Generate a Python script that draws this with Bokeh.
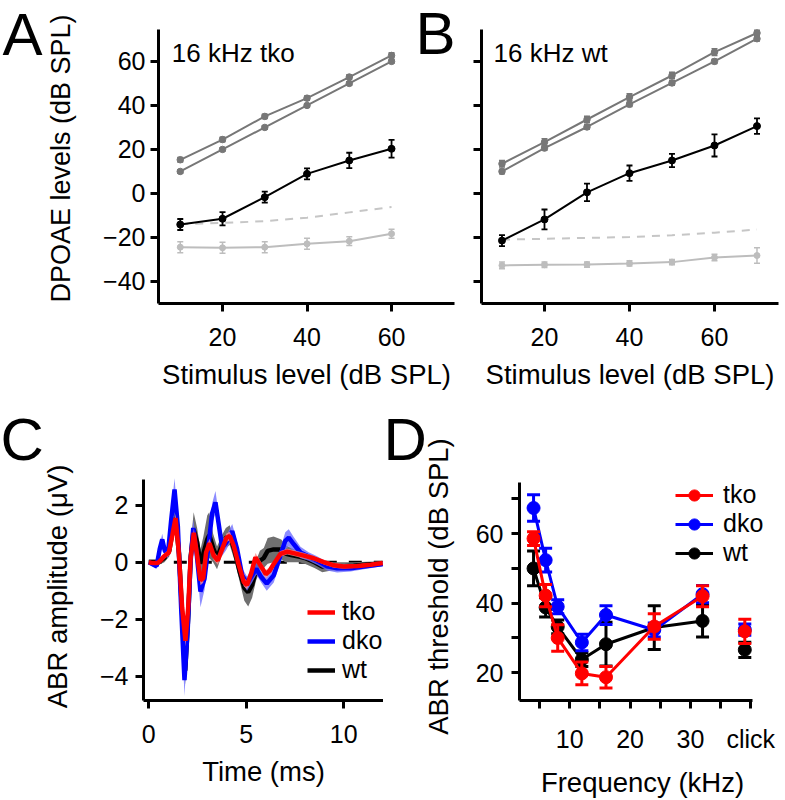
import math
from bokeh.plotting import figure
from bokeh.models import Label, Legend, LegendItem, FixedTicker, Range1d, Title
from bokeh.layouts import row, column
from bokeh.embed import file_html
from bokeh.resources import INLINE

FONT = "Liberation Sans"

# ---------------- Panel A data (16 kHz tko) ----------------
A_level = [10, 20, 30, 40, 50, 60]
A_f1 = [15.3, 24.5, 35.0, 43.3, 52.9, 62.7]
A_f1_err = [1.0, 1.0, 1.0, 1.0, 1.0, 1.2]
A_f2 = [10.0, 20.0, 30.0, 40.0, 50.0, 60.0]
A_f2_err = [0.8, 0.8, 0.8, 0.8, 0.8, 0.8]
A_dp = [-14.1, -11.5, -1.7, 8.9, 15.0, 20.3]
A_dp_err = [2.5, 3.0, 2.5, 2.5, 3.5, 4.0]
A_noise = [-24.4, -24.7, -24.4, -22.9, -21.7, -18.3]
A_noise_err = [2.5, 2.5, 2.5, 2.5, 2.0, 2.0]
A_floor = [-14.0, -13.4, -12.6, -11.0, -8.6, -6.2]

# ---------------- Panel B data (16 kHz wt) ----------------
B_level = [10, 20, 30, 40, 50, 60, 70]
B_f1 = [13.5, 23.3, 33.6, 43.8, 53.6, 64.2, 72.9]
B_f1_err = [1.5, 1.5, 1.5, 1.5, 1.5, 1.5, 1.2]
B_f2 = [10.0, 20.6, 30.2, 40.5, 50.2, 60.0, 70.3]
B_f2_err = [1.0, 1.0, 1.0, 1.0, 1.0, 1.0, 1.0]
B_dp = [-21.4, -11.8, 0.5, 9.2, 15.0, 21.8, 30.6]
B_dp_err = [2.5, 4.5, 4.0, 3.5, 3.0, 5.0, 3.5]
B_noise = [-32.7, -32.4, -32.3, -31.8, -31.2, -29.1, -28.2]
B_noise_err = [1.5, 1.2, 1.2, 1.2, 1.2, 1.5, 3.5]
B_floor = [-21.0, -20.6, -20.2, -19.8, -19.0, -17.8, -16.4]

# ---------------- Panel C data (ABR waveforms) ----------------
C_t_tko = [0, 0.2, 0.45, 0.6, 0.77, 1.03, 1.2, 1.37, 1.54, 1.71, 1.88, 2.02, 2.14, 2.31, 2.48,
           2.65, 2.79, 2.94, 3.11, 3.33, 3.54, 3.76, 3.98, 4.16, 4.36, 4.62, 4.87, 5.04, 5.25,
           5.47, 5.73, 6.0, 6.2, 6.41, 6.75, 7.1, 7.44, 7.95, 8.46, 8.98, 9.49, 10.0, 10.7,
           11.38, 12.0]
C_v_tko = [0, -0.03, -0.03, 0.06, 0.2, 0.34, 0.92, 1.55, 0.34, -1.6, -2.76, -1.6, 0.11, 1.03,
           0.23, -0.63, -0.57, 0.34, 0.67, 0.23, 0.06, 0.46, 0.86, 0.92, 0.57, -0.11, -0.69,
           -0.8, -0.4, 0.17, -0.11, -0.42, -0.3, -0.06, 0.29, 0.37, 0.32, 0.23, 0.14, 0.0,
           -0.11, -0.15, -0.13, -0.09, -0.03]
C_e_tko = [0.05, 0.05, 0.05, 0.08, 0.1, 0.1, 0.12, 0.15, 0.12, 0.15, 0.2, 0.15, 0.12, 0.15, 0.15,
           0.18, 0.15, 0.15, 0.15, 0.15, 0.15, 0.15, 0.15, 0.15, 0.15, 0.15, 0.15, 0.15, 0.15,
           0.15, 0.15, 0.15, 0.12, 0.1, 0.1, 0.1, 0.1, 0.1, 0.08, 0.08, 0.08, 0.08, 0.06, 0.06,
           0.05]

C_t_dko = [0, 0.17, 0.4, 0.56, 0.69, 0.82, 0.98, 1.15, 1.32, 1.49, 1.66, 1.83, 2.0, 2.14, 2.28,
           2.45, 2.65, 2.86, 3.04, 3.25, 3.42, 3.59, 3.76, 3.98, 4.28, 4.53, 4.79, 5.04, 5.3,
           5.52, 5.77, 6.05, 6.41, 6.75, 7.0, 7.18, 7.44, 7.78, 8.2, 8.63, 9.15, 9.66, 10.35,
           11.03, 12.0]
C_v_dko = [0, -0.06, -0.14, 0.46, 0.8, 0.4, 0.29, 1.49, 2.55, 1.26, -1.6, -4.14, -2.3, 0.0,
           1.2, 0.34, -1.03, -0.57, 0.46, 1.72, 2.1, 1.32, 0.52, 0.69, 1.09, 0.46, -0.46, -0.75,
           -0.46, -0.23, -0.52, -0.75, -0.46, 0.23, 0.75, 0.86, 0.63, 0.34, 0.2, 0.06, -0.14,
           -0.21, -0.21, -0.15, -0.06]
C_e_dko = [0.05, 0.08, 0.1, 0.15, 0.2, 0.15, 0.15, 0.3, 0.4, 0.3, 0.4, 0.55, 0.4, 0.3, 0.3,
           0.3, 0.55, 0.4, 0.3, 0.35, 0.4, 0.35, 0.3, 0.25, 0.25, 0.25, 0.25, 0.25, 0.25, 0.2,
           0.2, 0.25, 0.25, 0.25, 0.3, 0.3, 0.25, 0.2, 0.15, 0.15, 0.15, 0.15, 0.12, 0.1, 0.08]

C_t_wt = [0, 0.5, 0.8, 1.05, 1.2, 1.37, 1.55, 1.7, 1.87, 2.03, 2.15, 2.3, 2.48, 2.65, 2.8, 3.0,
          3.1, 3.3, 3.5, 3.75, 3.95, 4.15, 4.4, 4.65, 4.9, 5.1, 5.3, 5.5, 5.7, 5.9, 6.1, 6.4,
          6.8, 7.0, 7.3, 7.7, 8.0, 8.5, 8.9, 9.3, 9.8, 10.5, 11.2, 12.0]
C_v_wt = [0, 0, 0.15, 0.4, 1.0, 1.55, 0.3, -1.7, -3.8, -1.8, 0.2, 1.15, 0.7, -0.05, 0.3, 0.8,
          0.95, 0.5, 0.15, 0.6, 0.85, 0.95, 0.4, -0.3, -0.9, -1.05, -0.8, -0.3, 0.05, 0.15,
          0.4, 0.45, 0.45, 0.3, 0.25, 0.2, 0.15, 0.0, -0.15, -0.15, -0.15, -0.12, -0.08, -0.05]
C_e_wt = [0.1, 0.1, 0.15, 0.2, 0.3, 0.35, 0.4, 0.45, 0.5, 0.45, 0.45, 0.6, 0.5, 0.5, 0.6, 0.85,
          0.8, 0.5, 0.4, 0.35, 0.35, 0.35, 0.35, 0.35, 0.45, 0.5, 0.45, 0.35, 0.35, 0.35, 0.45,
          0.45, 0.35, 0.3, 0.25, 0.2, 0.2, 0.2, 0.2, 0.15, 0.15, 0.12, 0.1, 0.08]
C_zero_t = [0, 12]
C_zero_v = [0, 0]

# ---------------- Panel D data (ABR thresholds) ----------------
D_freq = [4, 6, 8, 12, 16, 24, 32]
D_click_pos = [39]
D_tko = [58.6, 42.2, 30.0, 19.8, 18.7, 33.3, 42.0]
D_tko_err = [2.0, 3.2, 3.8, 3.3, 3.1, 3.7, 3.0]
D_tko_click = [31.9]
D_tko_click_err = [3.5]
D_dko = [67.4, 52.4, 39.0, 28.7, 36.6, 32.3, 42.6]
D_dko_err = [3.8, 3.4, 2.0, 2.4, 2.7, 2.0, 2.5]
D_dko_click = [32.4]
D_dko_click_err = [1.6]
D_wt = [50.0, 38.8, 33.2, 23.8, 28.2, 33.0, 34.9]
D_wt_err = [5.0, 2.8, 2.0, 2.0, 6.3, 6.3, 4.6]
D_wt_click = [26.6]
D_wt_click_err = [2.2]


def style(p):
    p.grid.visible = False
    p.outline_line_color = None
    p.background_fill_color = "white"
    p.border_fill_color = "white"
    for ax in p.axis:
        ax.axis_line_width = 3
        ax.axis_line_color = "black"
        ax.major_tick_line_width = 3
        ax.major_tick_line_color = "black"
        ax.major_tick_out = 8
        ax.major_tick_in = 0
        ax.minor_tick_line_color = None
        ax.major_label_text_font = FONT
        ax.major_label_text_font_size = "25px"
        ax.major_label_text_color = "black"
        ax.axis_label_text_font = FONT
        ax.axis_label_text_font_size = "27.5px"
        ax.axis_label_text_font_style = "normal"
        ax.axis_label_text_color = "black"


def errbars(p, x, y, e, color, lw, cap):
    lo = [a - b for a, b in zip(y, e)]
    hi = [a + b for a, b in zip(y, e)]
    p.segment(x, lo, x, hi, line_color=color, line_width=lw)
    p.scatter(x, hi, marker="dash", size=cap, line_color=color, line_width=lw)
    p.scatter(x, lo, marker="dash", size=cap, line_color=color, line_width=lw)


def panel_title(p, txt, off):
    p.add_layout(Title(text=txt, align="left", vertical_align="bottom", offset=off, standoff=0,
                       text_font=FONT, text_font_size="60px", text_font_style="normal",
                       text_color="black"), "above")


GRAY = "#777777"
LIGHT = "#bdbdbd"
DASHC = "#c6c6c6"


def dpoae_panel(p, lev, f1, f1e, f2, f2e, dp, dpe, noise, noisee, floor):
    p.line(lev, floor, line_color=DASHC, line_width=2, line_dash="8 7")
    p.line(lev, noise, line_color=LIGHT, line_width=2)
    errbars(p, lev, noise, noisee, LIGHT, 1.5, 6)
    p.scatter(lev, noise, size=6, color=LIGHT)
    for ys, es in ((f1, f1e), (f2, f2e)):
        p.line(lev, ys, line_color=GRAY, line_width=2)
        errbars(p, lev, ys, es, GRAY, 1.5, 6)
        p.scatter(lev, ys, size=6.5, color=GRAY)
    p.line(lev, dp, line_color="black", line_width=2)
    errbars(p, lev, dp, dpe, "black", 1.8, 6)
    p.scatter(lev, dp, size=7, color="black")


def dpoae_axes(p, show_y):
    style(p)
    p.xaxis.ticker = FixedTicker(ticks=[20, 40, 60])
    p.yaxis.ticker = FixedTicker(ticks=[-40, -20, 0, 20, 40, 60])
    p.yaxis.bounds = (-50, 74.5)
    p.xaxis.axis_label = "Stimulus level (dB SPL)"
    p.xaxis.major_label_standoff = 16
    p.xaxis.axis_label_standoff = 10
    p.yaxis.major_label_standoff = 5
    if show_y:
        p.yaxis.major_label_overrides = {-40: "\u221240", -20: "\u221220"}
    else:
        p.yaxis.major_label_overrides = {-40: "", -20: "", 0: "", 20: "", 40: "", 60: ""}


# ---------------- Left strip of the top row: letter A and y-axis title ----------------
pL = figure(width=84, height=400, x_range=Range1d(0, 84), y_range=Range1d(303, 0),
            x_axis_type=None, y_axis_type=None, output_backend="svg", toolbar_location=None,
            min_border_left=0, min_border_right=0, min_border_top=0, min_border_bottom=97)
pL.grid.visible = False
pL.outline_line_color = None
pL.add_layout(Label(x=2, y=33.5, text="A", text_font=FONT, text_font_size="60px",
                    text_color="black", text_baseline="middle", text_align="left"))
pL.add_layout(Label(x=60, y=158, text="DPOAE levels (dB SPL)", angle=math.pi / 2,
                    text_font=FONT, text_font_size="27px", text_color="black",
                    text_baseline="middle", text_align="center"))

# ---------------- Panel A ----------------
pA = figure(width=376, height=400, x_range=Range1d(4.85, 74.9), y_range=Range1d(-50, 87.67),
            output_backend="svg", toolbar_location=None,
            min_border_left=74, min_border_right=6, min_border_top=0, min_border_bottom=97)
dpoae_panel(pA, A_level, A_f1, A_f1_err, A_f2, A_f2_err, A_dp, A_dp_err, A_noise, A_noise_err, A_floor)
dpoae_axes(pA, True)
pA.add_layout(Label(x=8, y=64, text="16 kHz tko", text_font=FONT, text_font_size="26px",
                    text_baseline="middle", text_color="black"))
pA.add_layout(Label(x=257, y=270, x_units="screen", y_units="screen", text="B",
                    text_font=FONT, text_font_size="60px", text_color="black",
                    text_baseline="middle", text_align="left"))

# ---------------- Panel B ----------------
pB = figure(width=325, height=400, x_range=Range1d(5.18, 75.06), y_range=Range1d(-50, 87.67),
            output_backend="svg", toolbar_location=None,
            min_border_left=21, min_border_right=7, min_border_top=0, min_border_bottom=97)
dpoae_panel(pB, B_level, B_f1, B_f1_err, B_f2, B_f2_err, B_dp, B_dp_err, B_noise, B_noise_err, B_floor)
dpoae_axes(pB, False)
pB.add_layout(Label(x=8, y=64, text="16 kHz wt", text_font=FONT, text_font_size="26px",
                    text_baseline="middle", text_color="black"))

# ---------------- Panel C ----------------
pC = figure(width=383, height=400, x_range=Range1d(-0.272, 12.04), y_range=Range1d(-4.852, 3.148),
            output_backend="svg", toolbar_location=None,
            min_border_left=143, min_border_right=0, min_border_top=72, min_border_bottom=96)
pC.line(C_zero_t, C_zero_v, line_color="black", line_width=3, line_dash="13 12")


def band(p, t, v, e, color, alpha):
    lo = [a - b for a, b in zip(v, e)]
    hi = [a + b for a, b in zip(v, e)]
    p.varea(x=t, y1=lo, y2=hi, fill_color=color, fill_alpha=alpha)


band(pC, C_t_wt, C_v_wt, C_e_wt, "#707070", 1.0)
rW = pC.line(C_t_wt, C_v_wt, line_color="black", line_width=4.5)
band(pC, C_t_dko, C_v_dko, C_e_dko, "#6f6fff", 0.8)
rD = pC.line(C_t_dko, C_v_dko, line_color="#0000ff", line_width=4.5)
band(pC, C_t_tko, C_v_tko, C_e_tko, "#ff9090", 0.8)
rT = pC.line(C_t_tko, C_v_tko, line_color="#ff0000", line_width=4.5)
style(pC)
pC.xaxis.ticker = FixedTicker(ticks=[0, 5, 10])
pC.yaxis.ticker = FixedTicker(ticks=[-4, -2, 0, 2])
pC.yaxis.bounds = (-4.852, 2.9)
pC.xaxis.axis_label = "Time (ms)"
pC.yaxis.axis_label = "ABR amplitude (\u03bcV)"
pC.xaxis.major_label_standoff = 16
pC.xaxis.axis_label_standoff = 10
pC.yaxis.major_label_standoff = 7
pC.yaxis.axis_label_standoff = 24
legC = Legend(items=[LegendItem(label="tko", renderers=[rT]),
                     LegendItem(label="dko", renderers=[rD]),
                     LegendItem(label="wt", renderers=[rW])],
              location=(164, 16), glyph_width=28, glyph_height=20, label_standoff=7,
              spacing=-3, padding=0, margin=0, border_line_color=None,
              background_fill_alpha=0, label_text_font=FONT, label_text_font_size="25px",
              label_text_color="black")
pC.add_layout(legC)
panel_title(pC, "C", -143)

# ---------------- Panel D ----------------
pD = figure(width=402, height=400, x_range=Range1d(1.67, 42.43), y_range=Range1d(12.0, 77.62),
            output_backend="svg", toolbar_location=None,
            min_border_left=136, min_border_right=20, min_border_top=72, min_border_bottom=96)
items = []
for lab, ys, es, cy, ce, col in (("wt", D_wt, D_wt_err, D_wt_click, D_wt_click_err, "black"),
                                 ("dko", D_dko, D_dko_err, D_dko_click, D_dko_click_err, "#0000ff"),
                                 ("tko", D_tko, D_tko_err, D_tko_click, D_tko_click_err, "#ff0000")):
    rl = pD.line(D_freq, ys, line_color=col, line_width=3)
    errbars(pD, D_freq, ys, es, col, 3, 13)
    rs = pD.scatter(D_freq, ys, size=13, color=col)
    errbars(pD, D_click_pos, cy, ce, col, 3, 13)
    pD.scatter(D_click_pos, cy, size=13, color=col)
    items.append(LegendItem(label=lab, renderers=[rl, rs]))
style(pD)
pD.xaxis.ticker = FixedTicker(ticks=[5, 10, 15, 20, 25, 30, 35, 40])
pD.xaxis.major_label_overrides = {5: "", 10: "10", 15: "", 20: "20", 25: "", 30: "30", 35: "", 40: "click"}
pD.yaxis.ticker = FixedTicker(ticks=[20, 30, 40, 50, 60, 70])
pD.yaxis.major_label_overrides = {20: "20", 30: "", 40: "40", 50: "", 60: "60", 70: ""}
pD.xaxis.bounds = (1.67, 40.28)
pD.yaxis.bounds = (12.0, 74.6)
pD.xaxis.axis_label = "Frequency (kHz)"
pD.yaxis.axis_label = "ABR threshold (dB SPL)"
pD.xaxis.major_label_standoff = 16
pD.xaxis.axis_label_standoff = 11
pD.yaxis.major_label_standoff = 8
pD.yaxis.axis_label_standoff = 19
legD = Legend(items=items[::-1], location=(156, 133), glyph_width=38, glyph_height=28,
              label_standoff=10, spacing=-3, padding=0, margin=0, border_line_color=None,
              background_fill_alpha=0, label_text_font=FONT, label_text_font_size="25px",
              label_text_color="black")
pD.add_layout(legD)
panel_title(pD, "D", -136)

layout = column(row(pL, pA, pB), row(pC, pD))
open("out.html", "w").write(file_html(layout, INLINE))
